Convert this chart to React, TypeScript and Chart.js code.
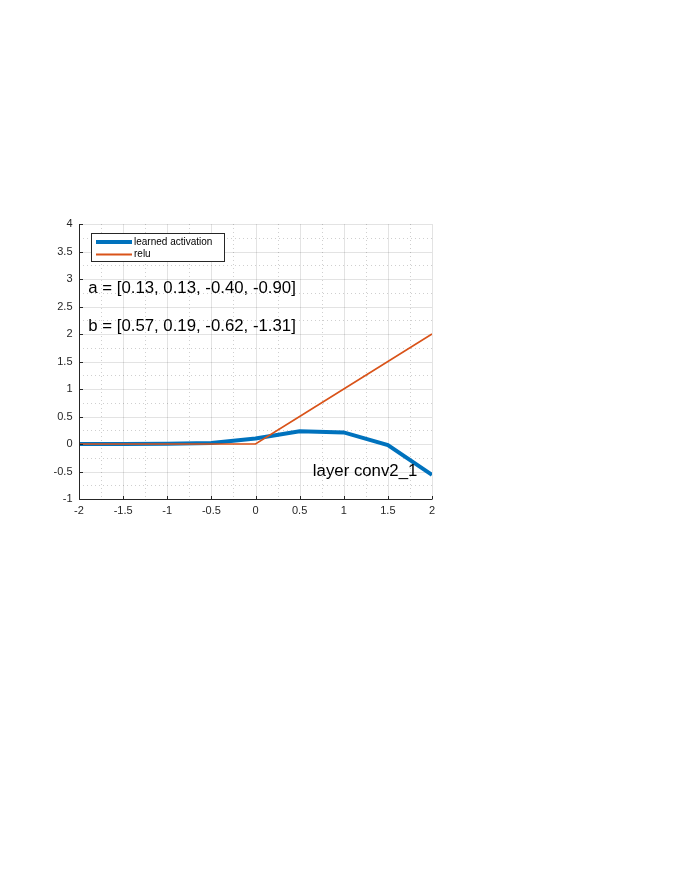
import React, { useEffect, useRef } from "react";
import { Chart, registerables } from "chart.js";

Chart.register(...registerables);

const xValues = [-2, -1.5, -1, -0.5, 0, 0.5, 1, 1.5, 2];
const learnedValues = [0, 0, 0.005, 0.02, 0.1, 0.23, 0.21, -0.02, -0.56];
const reluValues = [0, 0, 0, 0, 0, 0.5, 1, 1.5, 2];
const xTicks = [-2, -1.5, -1, -0.5, 0, 0.5, 1, 1.5, 2];
const yTicks = [-1, -0.5, 0, 0.5, 1, 1.5, 2, 2.5, 3, 3.5, 4];
const seriesNames = ["learned activation", "relu"];
const annotations = [
  { text: "a = [0.13, 0.13, -0.40, -0.90]", x: -1.895, y: 2.83 },
  { text: "b = [0.57, 0.19, -0.62, -1.31]", x: -1.895, y: 2.13 },
  { text: "layer conv2_1", x: 0.65, y: -0.49 },
];

const BLUE = "#0072BD";
const ORANGE = "#D95319";
const FONT = "'Liberation Sans', Arial, Helvetica, sans-serif";

const fmt = (v: number) => String(v);

const gridPlugin = {
  id: "matlabGrid",
  beforeDatasetsDraw(chart: any) {
    const { ctx, chartArea: a, scales } = chart;
    const xs = scales.x;
    const ys = scales.y;
    ctx.save();
    ctx.strokeStyle = "rgba(38,38,38,0.22)";
    ctx.lineWidth = 1;
    ctx.setLineDash([1, 3]);
    for (let v = -2; v <= 2.0001; v += 0.25) {
      if (Math.abs(v * 2 - Math.round(v * 2)) < 1e-6) continue;
      const px = Math.round(xs.getPixelForValue(v)) + 0.5;
      ctx.beginPath();
      ctx.moveTo(px, a.top);
      ctx.lineTo(px, a.bottom);
      ctx.stroke();
    }
    for (let v = -1; v <= 4.0001; v += 0.25) {
      if (Math.abs(v * 2 - Math.round(v * 2)) < 1e-6) continue;
      const py = Math.round(ys.getPixelForValue(v)) + 0.5;
      ctx.beginPath();
      ctx.moveTo(a.left, py);
      ctx.lineTo(a.right, py);
      ctx.stroke();
    }
    ctx.setLineDash([]);
    ctx.strokeStyle = "rgba(38,38,38,0.13)";
    for (const v of xTicks) {
      const px = Math.round(xs.getPixelForValue(v)) + 0.5;
      ctx.beginPath();
      ctx.moveTo(px, a.top);
      ctx.lineTo(px, a.bottom);
      ctx.stroke();
    }
    for (const v of yTicks) {
      const py = Math.round(ys.getPixelForValue(v)) + 0.5;
      ctx.beginPath();
      ctx.moveTo(a.left, py);
      ctx.lineTo(a.right, py);
      ctx.stroke();
    }
    ctx.restore();
  },
  afterDatasetsDraw(chart: any) {
    const { ctx, chartArea: a, scales } = chart;
    const xs = scales.x;
    const ys = scales.y;
    ctx.save();
    ctx.strokeStyle = "#262626";
    ctx.lineWidth = 1;
    const left = Math.round(a.left) + 0.5;
    const bottom = Math.round(a.bottom) + 0.5;
    ctx.beginPath();
    ctx.moveTo(left, a.top);
    ctx.lineTo(left, bottom);
    ctx.lineTo(a.right, bottom);
    ctx.stroke();
    for (const v of yTicks) {
      const py = Math.round(ys.getPixelForValue(v)) + 0.5;
      ctx.beginPath();
      ctx.moveTo(left, py);
      ctx.lineTo(left + 3.5, py);
      ctx.stroke();
    }
    for (const v of xTicks) {
      const px = Math.round(xs.getPixelForValue(v)) + 0.5;
      ctx.beginPath();
      ctx.moveTo(px, bottom);
      ctx.lineTo(px, bottom - 3.5);
      ctx.stroke();
    }
    ctx.fillStyle = "#000";
    ctx.font = `16.8px ${FONT}`;
    ctx.textBaseline = "middle";
    ctx.textAlign = "left";
    for (const t of annotations) {
      ctx.fillText(t.text, xs.getPixelForValue(t.x), ys.getPixelForValue(t.y));
    }
    const lx = 91.5;
    const ly = 233.5;
    const lw = 133;
    const lh = 28;
    ctx.fillStyle = "#fff";
    ctx.fillRect(lx, ly, lw, lh);
    ctx.strokeStyle = "#262626";
    ctx.lineWidth = 1;
    ctx.strokeRect(lx, ly, lw, lh);
    const colors = [BLUE, ORANGE];
    const widths = [4, 2];
    const rows = [242, 254.5];
    ctx.font = `10px ${FONT}`;
    for (let i = 0; i < seriesNames.length; i++) {
      ctx.strokeStyle = colors[i];
      ctx.lineWidth = widths[i];
      ctx.beginPath();
      ctx.moveTo(96, rows[i]);
      ctx.lineTo(132, rows[i]);
      ctx.stroke();
      ctx.fillStyle = "#000";
      ctx.fillText(seriesNames[i], 134, rows[i]);
    }
    ctx.restore();
  },
};

export default function App() {
  const ref = useRef<HTMLCanvasElement | null>(null);
  useEffect(() => {
    if (!ref.current) return;
    const chart = new Chart(ref.current, {
      type: "line",
      data: {
        datasets: [
          {
            label: seriesNames[0],
            data: xValues.map((x, i) => ({ x, y: learnedValues[i] })),
            borderColor: BLUE,
            borderWidth: 4,
            pointRadius: 0,
            fill: false,
            tension: 0,
            order: 2,
          },
          {
            label: seriesNames[1],
            data: xValues.map((x, i) => ({ x, y: reluValues[i] })),
            borderColor: ORANGE,
            borderWidth: 1.6,
            pointRadius: 0,
            fill: false,
            tension: 0,
            order: 1,
          },
        ],
      },
      plugins: [gridPlugin],
      options: {
        responsive: false,
        animation: false,
        events: [],
        layout: { padding: { left: 0, right: 244, top: 224, bottom: 343 } },
        plugins: { legend: { display: false }, tooltip: { enabled: false } },
        scales: {
          x: {
            type: "linear",
            min: -2,
            max: 2,
            afterFit: (s: any) => {
              s.height = 30;
            },
            afterBuildTicks: (s: any) => {
              s.ticks = xTicks.map((v) => ({ value: v }));
            },
            grid: { display: false, drawTicks: false },
            border: { display: false },
            ticks: {
              padding: 5,
              color: "#262626",
              font: { family: FONT, size: 11 },
              callback: (v: any) => fmt(Number(v)),
              maxRotation: 0,
              autoSkip: false,
            },
          },
          y: {
            type: "linear",
            min: -1,
            max: 4,
            afterFit: (s: any) => {
              s.width = 79;
            },
            afterBuildTicks: (s: any) => {
              s.ticks = yTicks.map((v) => ({ value: v }));
            },
            grid: { display: false, drawTicks: false },
            border: { display: false },
            ticks: {
              padding: 6.5,
              color: "#262626",
              font: { family: FONT, size: 11 },
              callback: (v: any) => fmt(Number(v)),
              autoSkip: false,
            },
          },
        },
      },
    });
    return () => chart.destroy();
  }, []);
  return (
    <div style={{ position: "absolute", left: 0, top: 0, width: 676, height: 872, background: "#fff" }}>
      <canvas ref={ref} width={676} height={872} style={{ display: "block" }} />
    </div>
  );
}
